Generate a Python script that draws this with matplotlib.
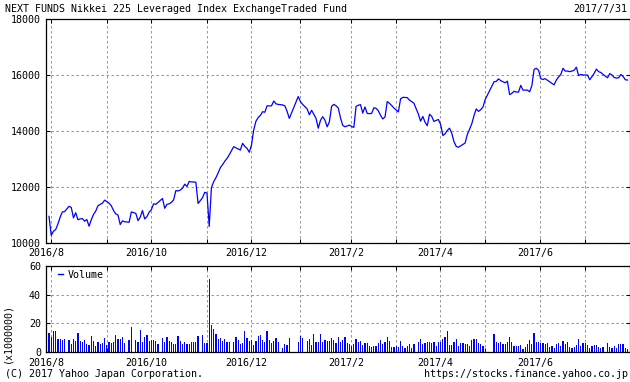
import numpy as np
import pandas as pd
import matplotlib
matplotlib.use('Agg')
import matplotlib.pyplot as plt
from matplotlib.lines import Line2D

plt.rcParams['font.family'] = ['DejaVu Sans Mono']

# trading calendar (Tokyo), x axis counts weekdays
start = '2016-08-01'
end = '2017-07-31'
holidays = ['2016-08-11', '2016-09-19', '2016-09-22', '2016-10-10',
            '2016-11-03', '2016-11-23', '2016-12-23', '2016-12-30',
            '2017-01-02', '2017-01-03', '2017-01-09', '2017-03-20',
            '2017-05-03', '2017-05-04', '2017-05-05', '2017-07-17']

# closing prices, one per trading day
close = [
    # 2016/8
    10950, 10270, 10420, 10480, 10680, 10920, 11110, 11120, 11310, 11270,
    10900, 11080, 10830, 10860, 10870, 10780, 10840, 10600, 10830, 11020,
    11140, 11330,
    # 2016/9
    11380, 11420, 11530, 11480, 11420, 11330, 11160, 11040, 11000, 10660,
    10790, 10760, 10740, 11110, 11060, 10800, 10920, 11160, 10860, 10940,
    # 2016/10
    11100, 11190, 11400, 11380, 11450, 11590, 11240, 11380, 11400, 11450,
    11540, 11870, 11860, 11890, 11960, 12100, 12020, 12200, 12180, 12180,
    # 2016/11
    12170, 11410, 11620, 11810, 11780, 10590, 11980, 12190, 12330, 12500,
    12690, 12800, 12920, 13020, 13150, 13440, 13400, 13360, 13320, 13560,
    # 2016/12
    13450, 13380, 13240, 13500, 14040, 14350, 14480, 14560, 14690, 14670,
    14900, 14895, 14900, 15070, 14970, 14950, 14930, 14900, 14700, 14450,
    # 2017/1
    15230, 15050, 14950, 14790, 14580, 14740, 14600, 14450, 14100, 14380,
    14510, 14390, 14150, 14330, 14880, 14950, 14900, 14820, 14470,
    # 2017/2
    14200, 14150, 14180, 14210, 14160, 14130, 14880, 14920, 14940, 14640,
    14860, 14630, 14620, 14630, 14830, 14810, 14720, 14560, 14430, 14500,
    # 2017/3
    15050, 14990, 14910, 14820, 14750, 14680, 15150, 15200, 15200, 15190,
    15100, 15050, 14990, 14600, 14350, 14520, 14310, 14190, 14600, 14520,
    14340, 14380,
    # 2017/4
    14410, 14230, 13840, 13900, 14020, 14100, 13920, 13620, 13450, 13420,
    13470, 13520, 13570, 13880, 14060, 14260, 14550, 14790, 14700, 14760,
    # 2017/5
    14850, 15120, 15760, 15770, 15860, 15800, 15760, 15720, 15780, 15300,
    15345, 15420, 15390, 15390, 15630, 15460, 15460, 15460, 15400, 15620,
    # 2017/6
    16200, 16240, 16170, 15870, 15840, 15870, 15810, 15760, 15700, 15650,
    15820, 15930, 16020, 16240, 16140, 16140, 16120, 16140, 16170, 16280,
    15980, 16020,
    # 2017/7
    16000, 16000, 16000, 15830, 15940, 16060, 16210, 16120, 16090, 16020,
    15900, 16050, 16000, 15910, 15890, 15900, 16020, 15950, 15830, 15820,
]

# volume in millions of shares
volume = [
    13.2, 10.8, 14.8, 14.8, 9.2, 9.2, 8.5, 9.2, 8.5, 5.8,
    9.2, 7.8, 13.4, 7.8, 7.2, 8.5, 5.8, 5.1, 11.3, 7.8,
    4.4, 7.2, 5.8, 6.5, 9.9, 5.1, 7.2, 6.5, 7.2, 12.0,
    9.2, 9.2, 10.6, 6.5, 8.5, 17.5, 8.5, 7.2, 15.5, 7.2,
    10.6, 12.0, 7.8, 8.5, 8.5, 7.8, 5.8, 9.9, 7.2, 10.6,
    7.8, 7.2, 5.8, 5.8, 11.3, 7.8, 5.8, 7.2, 5.8, 5.8,
    7.2, 7.2, 7.2, 11.3, 12.0, 6.5, 6.5, 50.8, 18.9, 16.2,
    12.7, 9.2, 9.9, 7.8, 9.2, 7.2, 7.2, 7.2, 10.6, 8.5,
    5.8, 6.5, 14.8, 9.9, 7.8, 8.5, 5.1, 7.8, 11.3, 12.0,
    8.5, 7.2, 14.8, 8.5, 6.5, 7.8, 9.9, 7.2, 3.0, 5.8,
    5.1, 9.9, 7.2, 11.3, 9.9, 7.8, 9.2, 5.1, 12.7, 7.2,
    7.2, 12.7,
    6.9, 8.5, 7.8, 7.8, 9.7, 8.5, 6.2, 10.4, 6.9, 8.5,
    10.8, 6.2, 5.5, 4.6, 5.5, 9.2, 6.9, 7.8, 5.1, 6.2,
    6.2, 4.6, 3.9, 4.6, 4.6, 6.2, 8.5, 5.5, 6.9, 10.4,
    7.8, 3.9, 3.9, 4.6, 3.9, 7.8, 4.6, 3.2, 4.6, 5.5,
    3.2, 5.5, 6.9, 9.2, 5.5, 6.2, 6.9, 6.9, 6.2, 6.9,
    4.6, 6.9, 6.9, 9.2, 10.8, 14.8, 5.1, 5.1, 6.9, 9.2,
    4.6, 6.2, 6.2, 5.5, 5.5, 4.6, 8.5, 9.2, 9.2, 6.2,
    5.5, 4.6, 2.3,
    12.7, 6.9, 6.2, 6.9, 5.5, 5.5, 6.9, 10.8, 6.9, 4.6,
    4.6, 4.6, 5.1, 2.3, 3.9, 5.5, 8.5, 5.5, 13.4, 6.9,
    6.9, 6.2, 6.2, 5.5, 6.2, 3.9, 4.6, 3.2, 5.5, 6.2,
    4.6, 7.8, 5.5, 6.9, 3.9, 3.2, 3.9, 5.1, 9.2, 4.6,
    6.2, 6.2, 5.1, 3.2, 4.6, 5.1, 5.1, 3.9, 3.2, 3.9,
    6.2, 3.9, 3.2, 4.6, 3.2, 5.5, 5.5, 5.5, 3.2, 2.3,
]

# grid at the first monday of each month, label every other month
grid_dates = ['2016-08-01', '2016-09-05', '2016-10-03', '2016-11-07',
              '2016-12-05', '2017-01-04', '2017-02-06', '2017-03-06',
              '2017-04-03', '2017-05-01', '2017-06-05', '2017-07-03']
month_labels = ['2016/8', '2016/10', '2016/12', '2017/2', '2017/4', '2017/6']

price_ticks = [10000, 12000, 14000, 16000, 18000]
volume_ticks = [0, 20, 40, 60]

dates = pd.bdate_range(start, end, freq='C', holidays=holidays)
x = np.busday_count(np.datetime64(start), dates.values.astype('datetime64[D]'))
assert len(x) == len(close) == len(volume)

grid_x = np.busday_count(np.datetime64(start),
                         np.array(grid_dates, dtype='datetime64[D]')) + 0.85
label_x = grid_x[::2] - 2.2

W, H = 630, 382
fig = plt.figure(figsize=(W / 100, H / 100), dpi=100)
ax1 = fig.add_axes([46 / W, 1 - 243 / H, 584 / W, 224 / H])
ax2 = fig.add_axes([46 / W, 1 - 352.3 / H, 584 / W, 86.6 / H])

grid_kw = dict(color='#999999', linestyle=(0, (2.4, 2.4)), linewidth=0.75)
for ax in (ax1, ax2):
    ax.set_xlim(-1.03, 261.1)
    ax.set_xticks(grid_x)
    ax.set_xticklabels([])
    ax.set_xticks(label_x, minor=True)
    ax.set_xticklabels(month_labels, minor=True)
    ax.tick_params(which='major', direction='in', length=2.9, width=0.75,
                   top=True, right=True, labelsize=7.2, pad=3.6)
    ax.tick_params(which='minor', length=0, labelsize=7.2, pad=3.8)
    ax.grid(which='major', **grid_kw)
    ax.set_axisbelow(True)
    for s in ax.spines.values():
        s.set_linewidth(0.9)

ax1.plot(x, close, color='blue', lw=0.9)
ax1.set_ylim(10000, 18000)
ax1.set_yticks(price_ticks)
ax1.set_yticklabels([str(v) for v in price_ticks])

ax2.bar(x, volume, width=0.55, color='blue', linewidth=0, antialiased=False)
ax2.set_ylim(0, 60)
ax2.set_yticks(volume_ticks)
ax2.set_yticklabels([str(v) for v in volume_ticks])
ax2.legend([Line2D([], [], color='blue', lw=1)], ['Volume'],
           loc='center left', bbox_to_anchor=(0.02, 0.893), frameon=False,
           handlelength=0.5, handletextpad=0.5, borderpad=0,
           borderaxespad=0, fontsize=7.2)

fig.text(5 / W, 1 - 9 / H, 'NEXT FUNDS Nikkei 225 Leveraged Index ExchangeTraded Fund',
         fontsize=7.2, ha='left', va='center')
fig.text(627 / W, 1 - 9 / H, '2017/7/31', fontsize=7.2, ha='right', va='center')
fig.text(7.3 / W, 1 - 333 / H, '(x1000000)', fontsize=7.2, rotation=90,
         ha='center', va='center')
fig.text(5 / W, 1 - 374 / H, '(C) 2017 Yahoo Japan Corporation.',
         fontsize=7.2, ha='left', va='center')
fig.text(628 / W, 1 - 374 / H, 'https://stocks.finance.yahoo.co.jp',
         fontsize=7.2, ha='right', va='center')

fig.savefig('out.png', dpi=100)
